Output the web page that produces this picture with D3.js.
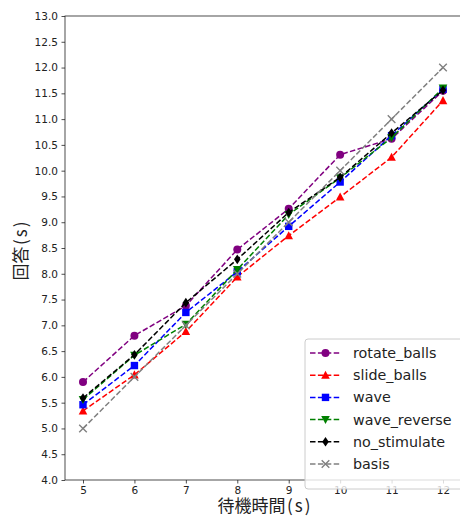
<!DOCTYPE html>
<html>
<head>
<meta charset="utf-8">
<script src="https://cdn.jsdelivr.net/npm/d3@7"></script>
<style>
  body { margin: 0; background: #fff; }
  svg { display: block; }
</style>
</head>
<body>
<div id="chart"></div>
<script>
const WIDTH = 460;
const HEIGHT = 517;
const PLOT = {'left': 65, 'right': 461, 'top': 16, 'bottom': 480};

// Data.
const waitTimes = [5, 6, 7, 8, 9, 10, 11, 12];
const rotateBalls = [5.90, 6.80, 7.38, 8.47, 9.26, 10.31, 10.62, 11.55];
const slideBalls = [5.34, 6.04, 6.88, 7.94, 8.74, 9.49, 10.26, 11.36];
const wave = [5.46, 6.22, 7.25, 8.04, 8.92, 9.78, 10.68, 11.58];
const waveReverse = [5.56, 6.42, 7.02, 8.08, 9.15, 9.86, 10.64, 11.60];
const noStimulate = [5.59, 6.43, 7.44, 8.28, 9.19, 9.87, 10.73, 11.56];
const basis = [5, 6, 7, 8, 9, 10, 11, 12];

const seriesNames = ['rotate_balls', 'slide_balls', 'wave', 'wave_reverse', 'no_stimulate', 'basis'];
const seriesValues = [rotateBalls, slideBalls, wave, waveReverse, noStimulate, basis];
const seriesColors = ['purple', 'red', 'blue', 'green', 'black', 'grey'];
const seriesMarkers = ['circle', 'triUp', 'square', 'triDown', 'diamond', 'cross'];

const yTicks = d3.range(4, 13.01, 0.5);

var svg = d3.select("#chart").append("svg")
    .attr("width", WIDTH)
    .attr("height", HEIGHT);

var x = d3.scaleLinear().domain([4.65, 12.35]).range([PLOT.left, PLOT.right]);
var y = d3.scaleLinear().domain([4, 13]).range([PLOT.bottom, PLOT.top]);

// axes
var xAxis = svg.append("g")
    .attr("transform", "translate(0," + PLOT.bottom + ")")
    .call(d3.axisBottom(x).tickValues(waitTimes).tickSize(3.5).tickPadding(3).tickFormat(d3.format("d")));
var yAxis = svg.append("g")
    .attr("transform", "translate(" + PLOT.left + ",0)")
    .call(d3.axisLeft(y).tickValues(yTicks).tickSize(3.5).tickPadding(3.5).tickFormat(d3.format(".1f")));

[xAxis, yAxis].forEach(function (a) {
    a.select(".domain").remove();
    a.selectAll("line").attr("stroke", "#222").attr("stroke-width", 0.8);
    a.selectAll("text").attr("font-family", "DejaVu Sans").attr("font-size", "10.5px").attr("fill", "#222");
});

// frame
svg.append("rect")
    .attr("x", PLOT.left).attr("y", PLOT.top)
    .attr("width", PLOT.right - PLOT.left).attr("height", PLOT.bottom - PLOT.top)
    .attr("fill", "none").attr("stroke", "#222").attr("stroke-width", 0.8);

// axis labels (parens set a bit wider, like the half-width glyphs of the original font)
function axisLabel(sel, kanji) {
    sel.attr("text-anchor", "middle")
        .attr("font-family", "Noto Sans CJK JP").attr("font-size", "17px").attr("fill", "#222");
    sel.append("tspan").text(kanji);
    sel.append("tspan").attr("letter-spacing", "2px").attr("dx", 1.5).text("(s)");
}
axisLabel(svg.append("text")
    .attr("x", (PLOT.left + PLOT.right) / 2 + 2).attr("y", 512), "待機時間");
axisLabel(svg.append("text")
    .attr("transform", "translate(27," + ((PLOT.top + PLOT.bottom) / 2 + 2) + ") rotate(-90)"), "回答");

function drawMarker(g, kind, cx, cy, color) {
    if (kind == 'circle') {
        g.append("circle").attr("cx", cx).attr("cy", cy).attr("r", 4).attr("fill", color);
    } else if (kind == 'square') {
        g.append("rect").attr("x", cx - 3.7).attr("y", cy - 3.7).attr("width", 7.4).attr("height", 7.4).attr("fill", color);
    } else if (kind == 'triUp') {
        g.append("path").attr("d", "M" + cx + "," + (cy - 4.5) + "L" + (cx + 4.3) + "," + (cy + 3.6) + "L" + (cx - 4.3) + "," + (cy + 3.6) + "Z").attr("fill", color);
    } else if (kind == 'triDown') {
        g.append("path").attr("d", "M" + cx + "," + (cy + 4.5) + "L" + (cx + 4.3) + "," + (cy - 3.6) + "L" + (cx - 4.3) + "," + (cy - 3.6) + "Z").attr("fill", color);
    } else if (kind == 'diamond') {
        g.append("path").attr("d", "M" + cx + "," + (cy - 4.8) + "L" + (cx + 3.3) + "," + cy + "L" + cx + "," + (cy + 4.8) + "L" + (cx - 3.3) + "," + cy + "Z").attr("fill", color);
    } else if (kind == 'cross') {
        g.append("path").attr("d", "M" + (cx - 3.8) + "," + (cy - 3.8) + "L" + (cx + 3.8) + "," + (cy + 3.8) + "M" + (cx - 3.8) + "," + (cy + 3.8) + "L" + (cx + 3.8) + "," + (cy - 3.8))
            .attr("stroke", color).attr("stroke-width", 1.4).attr("fill", "none");
    }
}

var line = d3.line().x(function (d) { return x(d[0]); }).y(function (d) { return y(d[1]); });

var plot = svg.append("g");
seriesValues.forEach(function (vals, i) {
    var pts = waitTimes.map(function (t, j) { return [t, vals[j]]; });
    var g = plot.append("g");
    g.append("path")
        .attr("d", line(pts))
        .attr("fill", "none")
        .attr("stroke", seriesColors[i])
        .attr("stroke-width", 1.5)
        .attr("stroke-dasharray", "5.5,2.4");
    pts.forEach(function (p) {
        drawMarker(g, seriesMarkers[i], x(p[0]), y(p[1]), seriesColors[i]);
    });
});

// legend
var legend = svg.append("g");
legend.append("rect")
    .attr("x", 305).attr("y", 339).attr("width", 160).attr("height", 150)
    .attr("rx", 3)
    .attr("fill", "white").attr("fill-opacity", 0.8)
    .attr("stroke", "#ccc").attr("stroke-width", 1);
seriesNames.forEach(function (name, i) {
    var ly = 353 + i * 22.2;
    legend.append("line")
        .attr("x1", 310).attr("x2", 341).attr("y1", ly).attr("y2", ly)
        .attr("stroke", seriesColors[i]).attr("stroke-width", 1.5)
        .attr("stroke-dasharray", "5.5,2.4");
    drawMarker(legend, seriesMarkers[i], 325.5, ly, seriesColors[i]);
    legend.append("text")
        .attr("x", 353).attr("y", ly + 5)
        .attr("font-family", "DejaVu Sans").attr("font-size", "14.3px").attr("fill", "#222")
        .text(name);
});
</script>
</body>
</html>
